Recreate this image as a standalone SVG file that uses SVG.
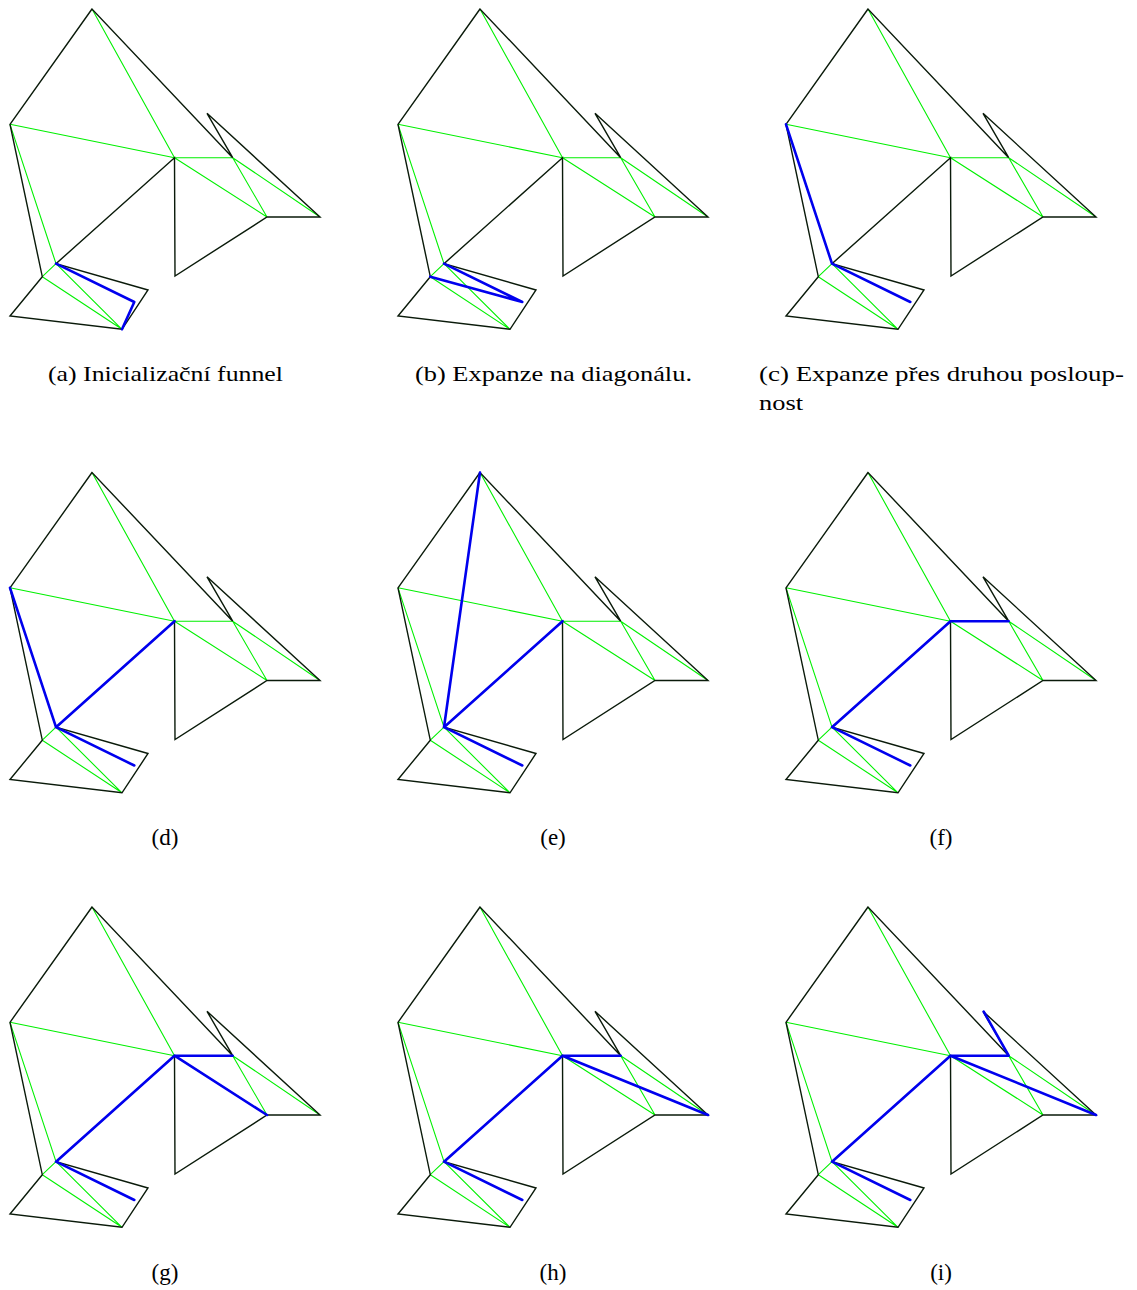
<svg xmlns="http://www.w3.org/2000/svg" xmlns:xlink="http://www.w3.org/1999/xlink" width="1137" height="1290" viewBox="0 0 1137 1290">
<style>
.g{stroke:#00f000;stroke-width:1.1;fill:none}
.k{stroke:#0a1a0a;stroke-width:1.4;fill:none;stroke-linejoin:miter}
.b{stroke:#0000ee;stroke-width:2.6;fill:none;stroke-linejoin:round;stroke-linecap:round}
.cap{font-family:"Liberation Serif","DejaVu Serif",serif;font-size:22px;fill:#000}
.sm{font-size:23px}
</style>
<defs>
<g id="base">
<path class="g" d="M10,124.3 L174.5,157.7 M92,9 L174.5,157.7 M10,124.3 L56,263.7 M56,263.7 L42.3,276.7 M42.3,276.7 L122,329.3 M56,263.7 L122,329.3 M174.5,157.7 L232.7,157.7 M174.5,157.7 L267,217 M232.7,157.7 L267,217 M232.7,157.7 L320,217"/>
<path class="k" d="M92,9 L10,124.3 L42.3,276.7 L10,316 L122,329.3 L148,290 L56,263.7 L174.5,157.7 L175,276 L267,217 L320,217 L207,113.3 L232.7,157.7 Z"/>
</g>
</defs>
<g id="panel-a" transform="translate(0,0)">
<use xlink:href="#base" href="#base"/>
<path class="b" d="M56,263.7 L134.3,302 L122,329.3"/>
</g>
<g id="panel-b" transform="translate(388,0)">
<use xlink:href="#base" href="#base"/>
<path class="b" d="M42.3,276.7 L134.3,302 L56,263.7"/>
</g>
<g id="panel-c" transform="translate(776,0)">
<use xlink:href="#base" href="#base"/>
<path class="b" d="M10,124.3 L56,263.7 L134.3,302"/>
</g>
<g id="panel-d" transform="translate(0,463.5)">
<use xlink:href="#base" href="#base"/>
<path class="b" d="M10,124.3 L56,263.7 L134.3,302 M56,263.7 L174.5,157.7"/>
</g>
<g id="panel-e" transform="translate(388,463.5)">
<use xlink:href="#base" href="#base"/>
<path class="b" d="M92,9 L56,263.7 L134.3,302 M56,263.7 L174.5,157.7"/>
</g>
<g id="panel-f" transform="translate(776,463.5)">
<use xlink:href="#base" href="#base"/>
<path class="b" d="M134.3,302 L56,263.7 L174.5,157.7 L232.7,157.7"/>
</g>
<g id="panel-g" transform="translate(0,898)">
<use xlink:href="#base" href="#base"/>
<path class="b" d="M134.3,302 L56,263.7 L174.5,157.7 L232.7,157.7 M174.5,157.7 L267,217"/>
</g>
<g id="panel-h" transform="translate(388,898)">
<use xlink:href="#base" href="#base"/>
<path class="b" d="M134.3,302 L56,263.7 L174.5,157.7 L232.7,157.7 M174.5,157.7 L320,217"/>
</g>
<g id="panel-i" transform="translate(776,898)">
<use xlink:href="#base" href="#base"/>
<path class="b" d="M134.3,302 L56,263.7 L174.5,157.7 L232.7,157.7 L207.7,113.7 M174.5,157.7 L320,217"/>
</g>
<g id="captions">
<text class="cap" x="48" y="381" textLength="235" lengthAdjust="spacingAndGlyphs">(a) Inicializační funnel</text>
<text class="cap" x="415" y="381" textLength="277" lengthAdjust="spacingAndGlyphs">(b) Expanze na diagonálu.</text>
<text class="cap" x="759" y="381" textLength="365" lengthAdjust="spacingAndGlyphs">(c) Expanze přes druhou posloup-</text>
<text class="cap" x="759" y="410" textLength="44" lengthAdjust="spacingAndGlyphs">nost</text>
<text class="cap sm" x="165" y="845" text-anchor="middle">(d)</text>
<text class="cap sm" x="553" y="845" text-anchor="middle">(e)</text>
<text class="cap sm" x="941" y="845" text-anchor="middle">(f)</text>
<text class="cap sm" x="165" y="1280" text-anchor="middle">(g)</text>
<text class="cap sm" x="553" y="1280" text-anchor="middle">(h)</text>
<text class="cap sm" x="941" y="1280" text-anchor="middle">(i)</text>
</g>
</svg>
